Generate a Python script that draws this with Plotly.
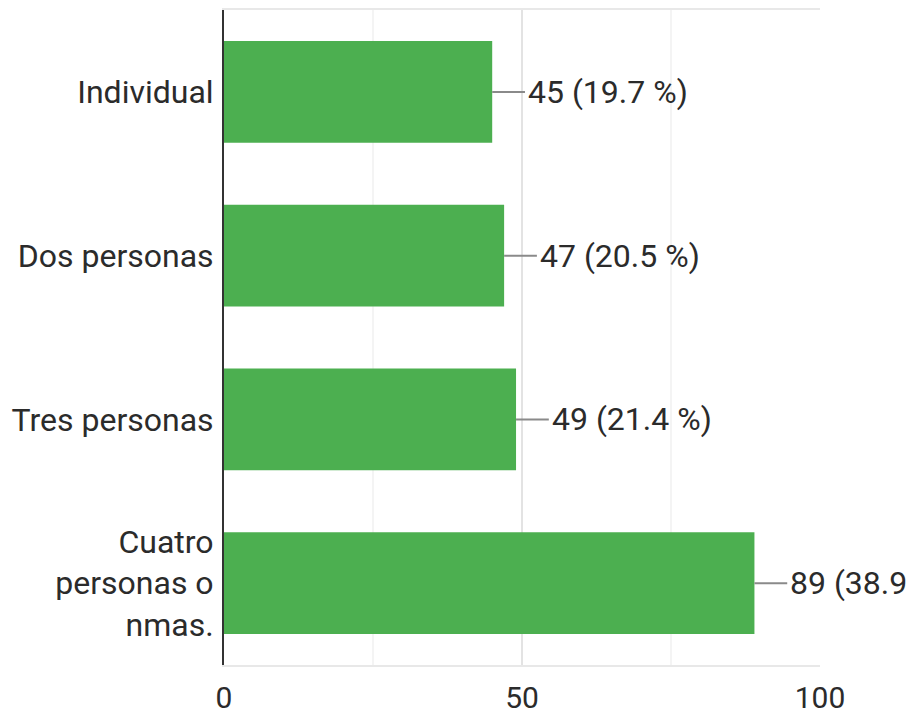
import plotly.graph_objects as go

categories = ["Individual", "Dos personas", "Tres personas", "Cuatro<br>personas o<br>nmas."]
counts = [45, 47, 49, 89]
percents = [19.7, 20.5, 21.4, 38.9]
x_ticks = [0, 50, 100]

BAR_COLOR = "#4caf50"
TEXT_COLOR = "#2b2b2b"
FONT = "Roboto"

fig = go.Figure()
fig.add_trace(go.Bar(
    y=categories,
    x=counts,
    orientation="h",
    marker=dict(color=BAR_COLOR, line=dict(width=0)),
    width=0.62,
    hoverinfo="skip",
))

# leader lines and value labels to the right of each bar
leader = 5.5
for cat, n, p in zip(categories, counts, percents):
    fig.add_shape(type="line", xref="x", yref="y",
                  x0=n, x1=n + leader, y0=cat, y1=cat,
                  line=dict(color="#8a8a8a", width=2))
    fig.add_annotation(x=n + leader, y=cat, xref="x", yref="y",
                       text=f"{n} ({p} %)", showarrow=False,
                       xanchor="left", yanchor="middle", xshift=1,
                       font=dict(family=FONT, size=32, color=TEXT_COLOR))

fig.update_layout(
    width=915, height=715,
    margin=dict(l=224, r=95, t=10, b=50),
    paper_bgcolor="white", plot_bgcolor="white",
    showlegend=False,
    font=dict(family=FONT, size=32, color=TEXT_COLOR),
)
fig.update_xaxes(
    range=[0, 100], tickvals=x_ticks, ticktext=[str(v) for v in x_ticks],
    showgrid=True, gridcolor="#e3e3e3", gridwidth=2,
    minor=dict(dtick=25, showgrid=True, gridcolor="#f4f4f4", gridwidth=2),
    showline=True, mirror=True, linecolor="#e8e8e8", linewidth=2,
    zeroline=False, ticks="", ticklabelstandoff=5,
    tickfont=dict(family=FONT, size=30, color=TEXT_COLOR),
    automargin=False, fixedrange=True,
)
fig.update_yaxes(
    categoryorder="array", categoryarray=categories, autorange="reversed",
    showgrid=False, showline=True, linecolor="#333333", linewidth=2,
    ticks="", ticklabelstandoff=2,
    tickfont=dict(family=FONT, size=32, color=TEXT_COLOR),
    automargin=False, fixedrange=True,
)

fig.write_html("out.html")
